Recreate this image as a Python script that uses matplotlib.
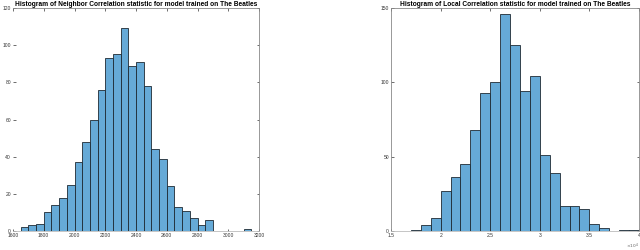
import numpy as np
import matplotlib
matplotlib.use("Agg")
import matplotlib.pyplot as plt
from matplotlib.ticker import FuncFormatter

plt.rcParams.update({"font.family": ["Liberation Sans", "DejaVu Sans"],
                     "xtick.direction": "in", "ytick.direction": "in"})

# Neighbor Correlation histogram (bin width 50)
NB_EDGES = np.arange(1650, 3151, 50)
NB_COUNTS = [2, 3, 4, 10, 14, 18, 25, 37, 48, 60, 76, 93, 95, 109, 89,
             91, 78, 44, 39, 24, 13, 11, 7, 3, 6, 0, 0, 0, 0, 1]

# Local Correlation histogram (bin width 1000)
LC_EDGES = np.arange(17000, 40001, 1000)
LC_COUNTS = [1, 4, 9, 27, 36, 45, 68, 93, 100, 146, 125, 94, 104,
             51, 39, 17, 17, 15, 5, 2, 0, 1, 1]

TITLES = ["Histogram of Neighbor Correlation statistic for model trained on The Beatles",
          "Histogram of Local Correlation statistic for model trained on The Beatles"]

FACE = (0.4, 0.668, 0.845)
EDGE = "#1e2a33"
TXT = "#333333"

fig = plt.figure(figsize=(6.4, 2.5), dpi=100)
ax1 = fig.add_axes([13 / 640, 19 / 250, 246 / 640, 223 / 250])
ax2 = fig.add_axes([391 / 640, 19 / 250, 248 / 640, 223 / 250])

ax1.hist(NB_EDGES[:-1], bins=NB_EDGES, weights=NB_COUNTS, color=FACE,
         edgecolor=EDGE, linewidth=0.6)
ax1.set_xlim(1600, 3200)
ax1.set_ylim(0, 120)
ax1.set_xticks(np.arange(1600, 3201, 200))
ax1.set_yticks(np.arange(0, 121, 20))

ax2.hist(LC_EDGES[:-1], bins=LC_EDGES, weights=LC_COUNTS, color=FACE,
         edgecolor=EDGE, linewidth=0.6)
ax2.set_xlim(15000, 40000)
ax2.set_ylim(0, 150)
ax2.set_xticks(np.arange(15000, 40001, 5000))
ax2.set_yticks([0, 50, 100, 150])
ax2.xaxis.set_major_formatter(FuncFormatter(lambda v, p: f"{v / 1e4:g}"))
ax2.text(0.999, -0.068, r"$\times10^4$", transform=ax2.transAxes, ha="right",
         va="center", fontsize=3.2, color="#666666")

for ax, title in zip((ax1, ax2), TITLES):
    ax.set_title(title, fontsize=4.8, fontweight="bold", pad=1.5)
    ax.tick_params(labelsize=3.6, colors=TXT, length=1.8, width=0.5, pad=1.5,
                   top=True, right=True)
    for s in ax.spines.values():
        s.set_color("#888888")
        s.set_linewidth(0.6)
    ax.spines["bottom"].set_color("#bbbbbb")
ax1.spines["left"].set_visible(False)

fig.savefig("out.png", dpi=100)
